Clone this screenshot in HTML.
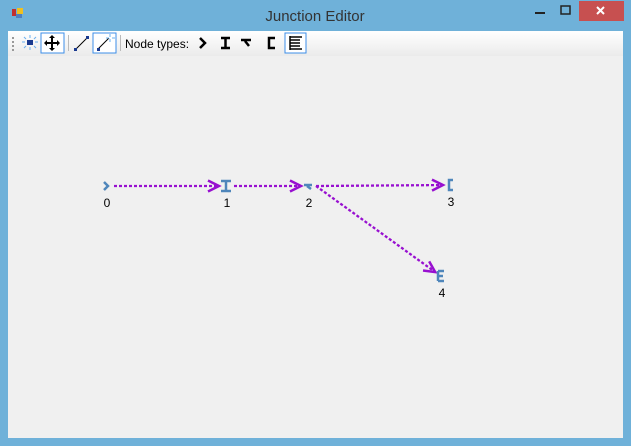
<!DOCTYPE html>
<html><head><meta charset="utf-8"><style>
body{margin:0;width:631px;height:446px;overflow:hidden;background:#6fb1d9;font-family:"Liberation Sans",sans-serif;}
</style></head><body>
<svg width="631" height="446" xmlns="http://www.w3.org/2000/svg" style="position:absolute;left:0;top:0">
<defs><linearGradient id="tb" x1="0" y1="0" x2="0" y2="1"><stop offset="0" stop-color="#ffffff"/><stop offset="1" stop-color="#ebebeb"/></linearGradient></defs>
<rect width="631" height="446" fill="#6fb1d9"/>
<g><rect x="12" y="9" width="4" height="7" fill="#c03030"/><rect x="17" y="8" width="6" height="6" fill="#f0c020"/><rect x="16" y="14" width="6" height="4" fill="#5080c0"/></g>
<text x="315" y="21" font-size="15" fill="#333" text-anchor="middle">Junction Editor</text>
<rect x="535" y="12" width="10" height="2" fill="#222"/>
<rect x="561" y="6" width="9" height="8" fill="none" stroke="#222" stroke-width="1.5"/>
<g><rect x="579" y="1" width="45" height="20" fill="#c75050"/><path d="M597 7l7 7M604 7l-7 7" stroke="#fff" stroke-width="2"/></g>
<rect x="8" y="31" width="615" height="407" fill="#f0f0f0"/>
<rect x="8" y="31" width="615" height="25" fill="url(#tb)"/>
<g fill="#999"><rect x="12" y="37" width="2" height="2"/><rect x="12" y="41" width="2" height="2"/><rect x="12" y="45" width="2" height="2"/><rect x="12" y="49" width="2" height="2"/></g>
<g><rect x="27" y="40" width="6" height="5" fill="#1a3a90"/><path d="M30 35v3M30 47v3M22 42h3M35 42h3M24 37l2 2M36 37l-2 2M24 48l2-2M36 48l-2-2" stroke="#6ab0f0"/></g>
<g><rect x="41" y="33" width="23" height="20" fill="#fff" stroke="#3c8ee8"/><path d="M52 36v14M45 43h14" stroke="#000" stroke-width="2"/><path d="M49 38l3-3 3 3zM49 48l3 3 3-3zM47 40l-3 3 3 3zM57 40l3 3-3 3z" fill="#000"/></g>
<rect x="68" y="35" width="1" height="16" fill="#bbb"/>
<g><path d="M76 49l11-11" stroke="#000"/><rect x="74" y="48" width="3" height="3" fill="#1a3a90"/><rect x="86" y="36" width="3" height="3" fill="#1a3a90"/></g>
<g><rect x="93" y="33" width="23" height="20" fill="#fff" stroke="#3c8ee8"/><path d="M98 49l11-11" stroke="#000"/><rect x="97" y="48" width="3" height="3" fill="#1a3a90"/><path d="M110 34v3M110 39v3M106 38h3M112 38h3" stroke="#6ab0f0"/></g>
<rect x="120" y="35" width="1" height="16" fill="#bbb"/>
<text x="125" y="48" font-size="12" fill="#000">Node types:</text>
<path d="M200 38l5 5-5 5" fill="none" stroke="#000" stroke-width="2.5"/>
<path d="M221 38h9M221 48h9M225.5 38v10" stroke="#000" stroke-width="2.5"/>
<path d="M241 40h10M245 41l4 5" stroke="#000" stroke-width="2.5" fill="none"/>
<path d="M275 38h-6v10h6" stroke="#000" stroke-width="2.5" fill="none"/>
<g><rect x="285" y="33" width="21" height="20" fill="#fff" stroke="#3c8ee8"/><path d="M290 36v14M290 37h12M290 40h10M290 43h10M290 46h10M290 49h12" stroke="#000" stroke-width="1.5" fill="none"/></g>
<g id="graph"></g>
</svg>
<script>
const nodeIds=[0,1,2,3,4];
const nodeX=[106,226,308,450,441];
const nodeY=[186,186,186,185,276];
const nodeTypes=['start','straight','branch','end','multi'];
const edgeFrom=[0,1,2,2];
const edgeTo=[1,2,3,4];
const g=document.getElementById('graph');
const NS='http://www.w3.org/2000/svg';
function mk(t,a){const e=document.createElementNS(NS,t);for(const k in a)e.setAttribute(k,a[k]);g.appendChild(e);return e;}
edgeFrom.forEach((f,i)=>{const t=edgeTo[i];
 const x1=nodeX[f]+8,y1=nodeY[f],dx=nodeX[t]-nodeX[f],dy=nodeY[t]-nodeY[f],L=Math.hypot(dx,dy);
 const ux=dx/L,uy=dy/L,x2=nodeX[t]-ux*7,y2=nodeY[t]-uy*7;
 const ln=mk('path',{d:`M${x1} ${y1}L${x2} ${y2}`,stroke:'#9810d0','stroke-width':2.3,'stroke-dasharray':'3,2',fill:'none'});
 
 
 const px=-uy,py=ux;
 const ah=mk('path',{d:`M${x2-ux*11+px*5.5} ${y2-uy*11+py*5.5}L${x2} ${y2}L${x2-ux*11-px*5.5} ${y2-uy*11-py*5.5}`,stroke:'#9810d0','stroke-width':2.5,fill:'none'});
 
 
});
const glyph={start:(x,y)=>`M${x-2} ${y-4}l4 4-4 4`,straight:(x,y)=>`M${x-5} ${y-5}h10M${x-5} ${y+5}h10M${x} ${y-5}v10`,branch:(x,y)=>`M${x-4} ${y-1}h8M${x-1} ${y}l4 3`,end:(x,y)=>`M${x+3} ${y-5}h-4v10h4`,multi:(x,y)=>`M${x-3} ${y-5}v10M${x-3} ${y-5}h6M${x-3} ${y}h5M${x-3} ${y+5}h6`};
nodeIds.forEach((id,i)=>{
 const n=mk('path',{d:glyph[nodeTypes[i]](nodeX[i],nodeY[i]),stroke:'#4f86bb','stroke-width':2.5,fill:'none'});
 
 
 const t=mk('text',{x:nodeX[i]+1,y:nodeY[i]+21,'font-size':12,fill:'#000','text-anchor':'middle'});
 t.textContent=id;
 
 
});
</script>
</body></html>
